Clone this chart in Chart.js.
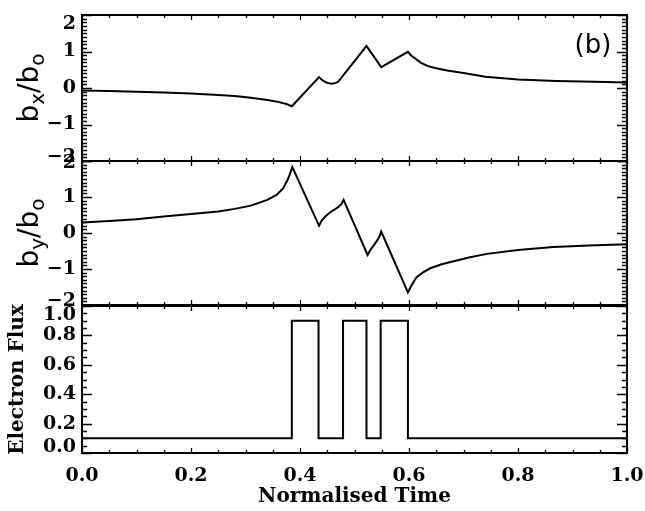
<!DOCTYPE html>
<html>
<head>
<meta charset="utf-8">
<script src="https://cdn.jsdelivr.net/npm/chart.js@4.4.1/dist/chart.umd.min.js"></script>
<style>
    html, body { margin: 0; padding: 0; background: #fff; }
    #wrap { position: relative; width: 645px; height: 511px; }
    #wrap canvas { position: absolute; left: 0; top: 0; }
</style>
</head>
<body>
<div id="wrap">
    <canvas id="bx_chart" width="645" height="511"></canvas>
    <canvas id="by_chart" width="645" height="511"></canvas>
    <canvas id="flux_chart" width="645" height="511"></canvas>
</div>
<script>
// Values
const bxTime = [0.00, 0.05, 0.10, 0.15, 0.20, 0.25, 0.28, 0.31, 0.34, 0.36, 0.375, 0.385,
    0.435, 0.442, 0.450, 0.458, 0.466, 0.470, 0.522, 0.549, 0.598, 0.604, 0.612, 0.622,
    0.635, 0.65, 0.67, 0.70, 0.74, 0.80, 0.87, 0.94, 1.00]
const bxValue = [-0.07, -0.08, -0.10, -0.12, -0.15, -0.19, -0.22, -0.27, -0.33, -0.38, -0.44, -0.50,
    0.30, 0.20, 0.14, 0.12, 0.14, 0.17, 1.15, 0.57, 0.99, 0.89, 0.80, 0.69,
    0.60, 0.54, 0.48, 0.41, 0.31, 0.23, 0.19, 0.17, 0.15]

const byTime = [0.00, 0.05, 0.10, 0.15, 0.20, 0.25, 0.28, 0.31, 0.34, 0.357, 0.369, 0.378, 0.386,
    0.435, 0.440, 0.446, 0.453, 0.462, 0.470, 0.476, 0.480, 0.524, 0.529, 0.535, 0.541, 0.546, 0.549,
    0.598, 0.603, 0.608, 0.614, 0.625, 0.639, 0.66, 0.68, 0.71, 0.743, 0.80, 0.865, 0.93, 1.00]
const byValue = [0.29, 0.33, 0.38, 0.46, 0.53, 0.60, 0.67, 0.76, 0.92, 1.06, 1.24, 1.50, 1.83,
    0.20, 0.35, 0.45, 0.55, 0.64, 0.72, 0.80, 0.92, -0.61, -0.47, -0.35, -0.22, -0.09, 0.04,
    -1.65, -1.50, -1.37, -1.23, -1.10, -0.98, -0.87, -0.79, -0.68, -0.58, -0.47, -0.39, -0.35, -0.31]

// flux switches level at each time (value holds until the next time)
const fluxTime = [0.0, 0.385, 0.434, 0.479, 0.522, 0.548, 0.598, 1.0]
const fluxValue = [0.1, 0.9, 0.1, 0.9, 0.1, 0.9, 0.1, 0.1]

// Tick labels
const timeTicks = [0.0, 0.2, 0.4, 0.6, 0.8, 1.0]
const fieldTicks = [-2, -1, 0, 1, 2]
const fluxTicks = [0.0, 0.2, 0.4, 0.6, 0.8, 1.0]

const W = 645, H = 511
const plotLeft = 82, plotRight = 627
const tickFont = { family: 'DejaVu Serif', size: 19, weight: 'bold' }

// IDL style frame: inward ticks on all four sides, y labels, subscripted axis titles
const idlFrame = {
    id: 'idlFrame',
    afterDraw(chart, args, opts) {
        const { ctx, chartArea: a } = chart
        const x = chart.scales.x, y = chart.scales.y
        ctx.save()
        ctx.strokeStyle = '#000'
        ctx.lineWidth = 1.3
        ctx.beginPath()
        const nx = Math.round((x.max - x.min) / 0.05)
        for (let i = 0; i <= nx; i++) {
            const px = Math.round(x.getPixelForValue(x.min + i * 0.05)) + 0.5
            const len = i % 4 === 0 ? 5 : 3
            ctx.moveTo(px, a.bottom); ctx.lineTo(px, a.bottom - len)
            ctx.moveTo(px, a.top); ctx.lineTo(px, a.top + len)
        }
        const ny = Math.round((y.max - y.min) / opts.minorStep)
        for (let i = 0; i <= ny; i++) {
            const py = Math.round(y.getPixelForValue(y.min + i * opts.minorStep)) + 0.5
            const len = i % opts.perMajor === 0 ? 10 : 5
            ctx.moveTo(a.left, py); ctx.lineTo(a.left + len, py)
            ctx.moveTo(a.right, py); ctx.lineTo(a.right - len, py)
        }
        ctx.stroke()
        ctx.lineWidth = 2
        ctx.strokeRect(a.left, a.top, a.right - a.left, a.bottom - a.top)

        ctx.fillStyle = '#000'
        // y tick labels, end labels nudged inward like the original
        ctx.font = `${tickFont.weight} ${tickFont.size}px "${tickFont.family}"`
        ctx.textAlign = 'right'
        ctx.textBaseline = 'middle'
        const last = opts.labels.length - 1
        opts.labels.forEach((v, i) => {
            let py = y.getPixelForValue(v)
            if (i === 0) py += opts.endShift[0]
            if (i === last) py += opts.endShift[1]
            ctx.fillText(opts.format(v), a.left - 6, py)
        })

        if (opts.title) {
            ctx.save()
            ctx.translate(38, (a.top + a.bottom) / 2)
            ctx.rotate(-Math.PI / 2)
            const big = '28px "DejaVu Sans"', small = '20px "DejaVu Sans"'
            let w = 0
            opts.title.forEach(([t, sub]) => { ctx.font = sub ? small : big; w += ctx.measureText(t).width })
            let pos = -w / 2
            ctx.textAlign = 'left'
            ctx.textBaseline = 'alphabetic'
            opts.title.forEach(([t, sub]) => {
                ctx.font = sub ? small : big
                ctx.fillText(t, pos, sub ? 6 : 0)
                pos += ctx.measureText(t).width
            })
            ctx.restore()
        }
        if (opts.tag) {
            ctx.font = '26px "DejaVu Sans"'
            ctx.textAlign = 'center'
            ctx.textBaseline = 'middle'
            ctx.fillText(opts.tag, 593, 46)
        }
        ctx.restore()
    }
}

function makePanel(canvasId, time, values, p) {
    const points = time.map((t, i) => ({ x: t, y: values[i] }))
    const showX = !!p.xTitle
    return new Chart(document.getElementById(canvasId), {
        type: 'line',
        data: {
            datasets: [{
                data: points,
                borderColor: '#000',
                borderWidth: 2,
                pointRadius: 0,
                tension: 0,
                stepped: p.stepped || false,
                fill: false
            }]
        },
        options: {
            responsive: false,
            animation: false,
            events: [],
            layout: { padding: { left: 0, right: W - plotRight, top: p.top, bottom: showX ? 0 : H - p.bottom } },
            plugins: {
                legend: { display: false },
                tooltip: { enabled: false },
                idlFrame: {
                    minorStep: p.minorStep, perMajor: p.perMajor, title: p.title, tag: p.tag,
                    labels: p.yTicks, format: p.format, endShift: p.endShift
                }
            },
            scales: {
                x: {
                    type: 'linear',
                    min: 0, max: 1,
                    afterBuildTicks: s => { s.ticks = timeTicks.map(v => ({ value: v })) },
                    afterFit: s => {
                        s.height = showX ? H - p.bottom : 0
                        s.paddingLeft = 0
                        s.paddingRight = 0
                    },
                    grid: { display: false, drawTicks: false },
                    border: { display: false },
                    ticks: {
                        display: showX,
                        autoSkip: false,
                        maxRotation: 0,
                        padding: 12,
                        color: '#000',
                        font: tickFont,
                        callback: v => v.toFixed(1)
                    },
                    title: {
                        display: showX,
                        text: p.xTitle || '',
                        color: '#000',
                        padding: { top: 0, bottom: 2 },
                        font: { family: 'DejaVu Serif', size: 20, weight: 'bold' }
                    }
                },
                y: {
                    min: p.yMin, max: p.yMax,
                    afterBuildTicks: s => { s.ticks = p.yTicks.map(v => ({ value: v })) },
                    afterFit: s => {
                        s.width = plotLeft
                        s.paddingTop = 0
                        s.paddingBottom = 0
                    },
                    grid: { display: false, drawTicks: false },
                    border: { display: false },
                    ticks: { display: false },
                    title: {
                        display: !!p.yTitle,
                        text: p.yTitle || '',
                        color: '#000',
                        padding: { top: 6, bottom: 0 },
                        font: { family: 'DejaVu Serif', size: 20, weight: 'bold' }
                    }
                }
            }
        },
        plugins: [idlFrame]
    })
}

const fieldFormat = v => (v < 0 ? '\u2212' + Math.abs(v) : String(v))

makePanel('bx_chart', bxTime, bxValue, {
    top: 15, bottom: 161, yMin: -2, yMax: 2, yTicks: fieldTicks, format: fieldFormat, endShift: [-4, 9],
    minorStep: 0.1, perMajor: 10, title: [['b', false], ['x', true], ['/b', false], ['o', true]], tag: '(b)'
})

makePanel('by_chart', byTime, byValue, {
    top: 161, bottom: 305, yMin: -2, yMax: 2, yTicks: fieldTicks, format: fieldFormat, endShift: [-4, 2],
    minorStep: 0.1, perMajor: 10, title: [['b', false], ['y', true], ['/b', false], ['o', true]]
})

makePanel('flux_chart', fluxTime, fluxValue, {
    top: 306, bottom: 453, yMin: 0, yMax: 1, yTicks: fluxTicks, format: v => v.toFixed(1), endShift: [-6, 9],
    minorStep: 0.05, perMajor: 4, stepped: 'before', yTitle: 'Electron Flux', xTitle: 'Normalised Time'
})
</script>
</body>
</html>
